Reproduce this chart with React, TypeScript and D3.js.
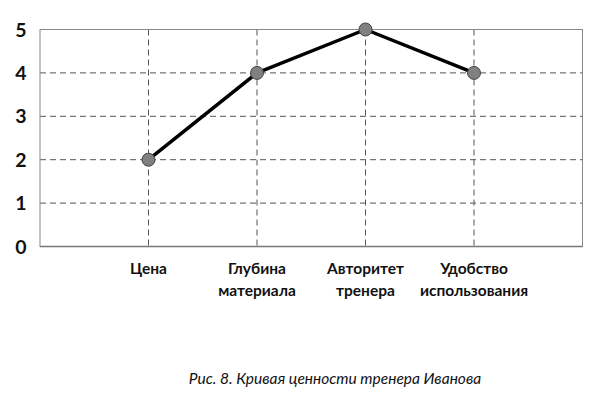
import React from "react";
import * as d3 from "d3";

const categories: string[][] = [["Цена"], ["Глубина", "материала"], ["Авторитет", "тренера"], ["Удобство", "использования"]];
const values: number[] = [2, 4, 5, 4];
const yTicks: number[] = [0, 1, 2, 3, 4, 5];
const caption = "Рис. 8. Кривая ценности тренера Иванова";

export default function App() {
  const W = 609, H = 407;
  const left = 40, right = 582.5, top = 29.5, bottom = 246.5;
  const x = d3.scaleLinear().domain([0, categories.length + 1]).range([left, right]);
  const y = d3.scaleLinear().domain([0, 5]).range([bottom, top]);
  const line = d3.line<number>().x((_, i) => x(i + 1)).y((d) => y(d));
  const font = "Lato, 'Open Sans', sans-serif";
  return (
    <svg width={W} height={H} style={{ position: "absolute", left: 0, top: 0, background: "#fff" }}>
      {yTicks.filter((t) => t > 0 && t < 5).map((t) => (
        <line key={"h" + t} x1={left} x2={right} y1={y(t)} y2={y(t)} stroke="#555" strokeWidth={1} strokeDasharray="6,4" />
      ))}
      {categories.map((_, i) => (
        <line key={"v" + i} x1={x(i + 1)} x2={x(i + 1)} y1={top} y2={bottom} stroke="#555" strokeWidth={1} strokeDasharray="6,4" />
      ))}
      <rect x={left} y={top} width={right - left} height={bottom - top} fill="none" stroke="#888" strokeWidth={1} />
      <line x1={left} x2={right} y1={bottom} y2={bottom} stroke="#777" strokeWidth={1.5} />
      {yTicks.map((t) => (
        <text key={"t" + t} x={21} y={y(t)} dy="0.36em" textAnchor="middle" fontFamily={font} fontWeight={700} fontSize={19.5} fill="#111">{t}</text>
      ))}
      <path d={line(values) || ""} fill="none" stroke="#000" strokeWidth={3.5} strokeLinejoin="round" />
      {values.map((v, i) => (
        <circle key={"c" + i} cx={x(i + 1)} cy={y(v)} r={6.5} fill="#808080" stroke="#444" strokeWidth={1} />
      ))}
      {categories.map((lines, i) => (
        <text key={"l" + i} x={x(i + 1)} y={274} textAnchor="middle" fontFamily={font} fontWeight={700} fontSize={15.5} fill="#111">
          {lines.map((s, j) => (
            <tspan key={j} x={x(i + 1)} dy={j === 0 ? 0 : 22}>{s}</tspan>
          ))}
        </text>
      ))}
      <text x={335} y={384} textAnchor="middle" fontFamily={font} fontStyle="italic" fontSize={15.5} fill="#111">{caption}</text>
    </svg>
  );
}
